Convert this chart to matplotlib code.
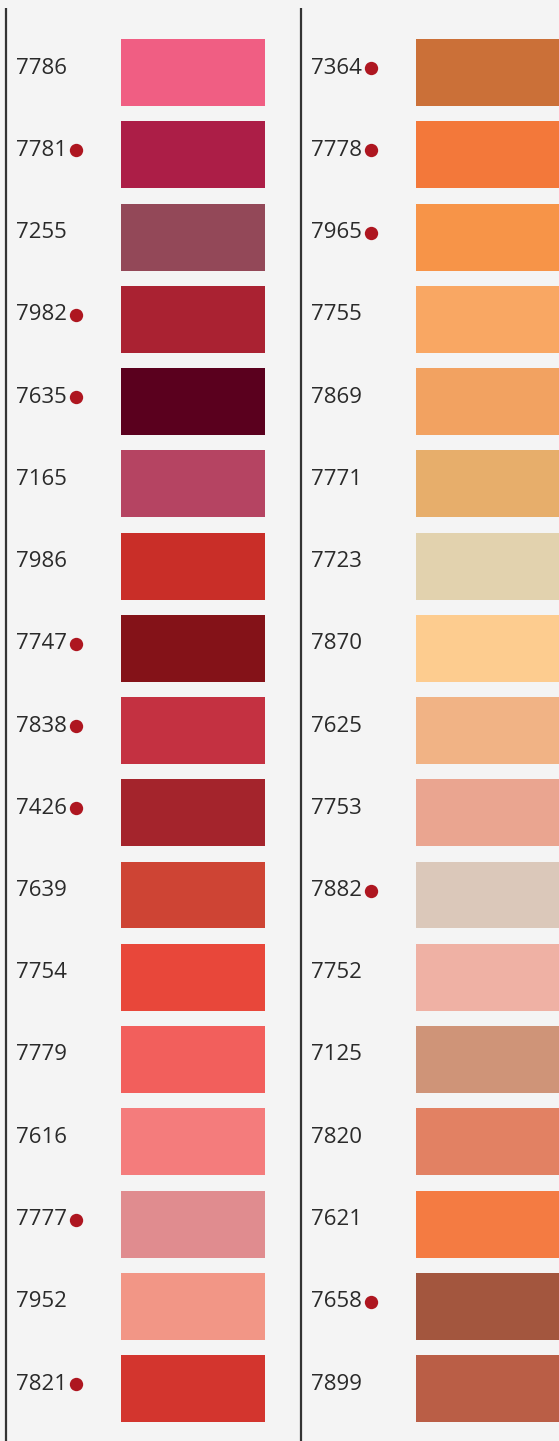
import matplotlib.pyplot as plt

# colour codes, swatch colours and whether a dot is shown
left_codes = ['7786', '7781', '7255', '7982', '7635', '7165', '7986', '7747', '7838',
              '7426', '7639', '7754', '7779', '7616', '7777', '7952', '7821']
left_colors = ['#F05E83', '#AC1E47', '#934858', '#AA2232', '#5A001E', '#B54462',
               '#C92E28', '#841218', '#C43141', '#A4242C', '#CE4434', '#E8473A',
               '#F25F5C', '#F47C7C', '#E08C8F', '#F29686', '#D3352E']
left_dots = [0, 1, 0, 1, 1, 0, 0, 1, 1, 1, 0, 0, 0, 0, 1, 0, 1]

right_codes = ['7364', '7778', '7965', '7755', '7869', '7771', '7723', '7870', '7625',
               '7753', '7882', '7752', '7125', '7820', '7621', '7658', '7899']
right_colors = ['#CB7038', '#F3783A', '#F79448', '#F9A763', '#F2A261', '#E7AE6B',
                '#E2D2AE', '#FDCC8F', '#F1B385', '#EAA590', '#DBC8BA', '#EFB1A4',
                '#CF9478', '#E28163', '#F47B42', '#A3563E', '#BA5E46']
right_dots = [1, 1, 1, 0, 0, 0, 0, 0, 0, 0, 1, 0, 0, 0, 0, 1, 0]

bg = '#F4F4F4'
dot_color = '#AE1620'
pitch = 82.25  # pixels per row
label_shift = -4.5 / pitch  # labels sit a bit above the swatch centre

fig = plt.figure(figsize=(5.59, 14.41), dpi=100, facecolor=bg)
ax = fig.add_axes([0, 0, 1, 1])
ax.set_facecolor(bg)
ax.set_xlim(0, 559)
top = -72.5 / pitch
bottom = (1441 - 72.5) / pitch
ax.set_ylim(bottom, top)
ax.axis('off')

columns = [
    (left_codes, left_colors, left_dots, 6, 121, 144),
    (right_codes, right_colors, right_dots, 301, 416, 160),
]

for codes, colors, dots, x0, sw_left, sw_width in columns:
    rows = list(range(len(codes)))
    # vertical separator line
    ax.plot([x0, x0], [top + 8 / pitch, bottom], color='#333333', lw=1.6,
            solid_capstyle='butt')
    # swatches
    ax.barh(rows, sw_width, left=sw_left, height=67 / pitch, color=colors)
    # labels and dots
    for i, code in enumerate(codes):
        ax.text(x0 + 10, i + label_shift, code, fontsize=16, color='#2A2A2A',
                family='Open Sans', va='center', ha='left')
        if dots[i]:
            ax.plot(x0 + 70, i + label_shift, 'o', color=dot_color,
                    markersize=9.6, markeredgewidth=0)

fig.savefig('out.png', dpi=100, facecolor=bg)
